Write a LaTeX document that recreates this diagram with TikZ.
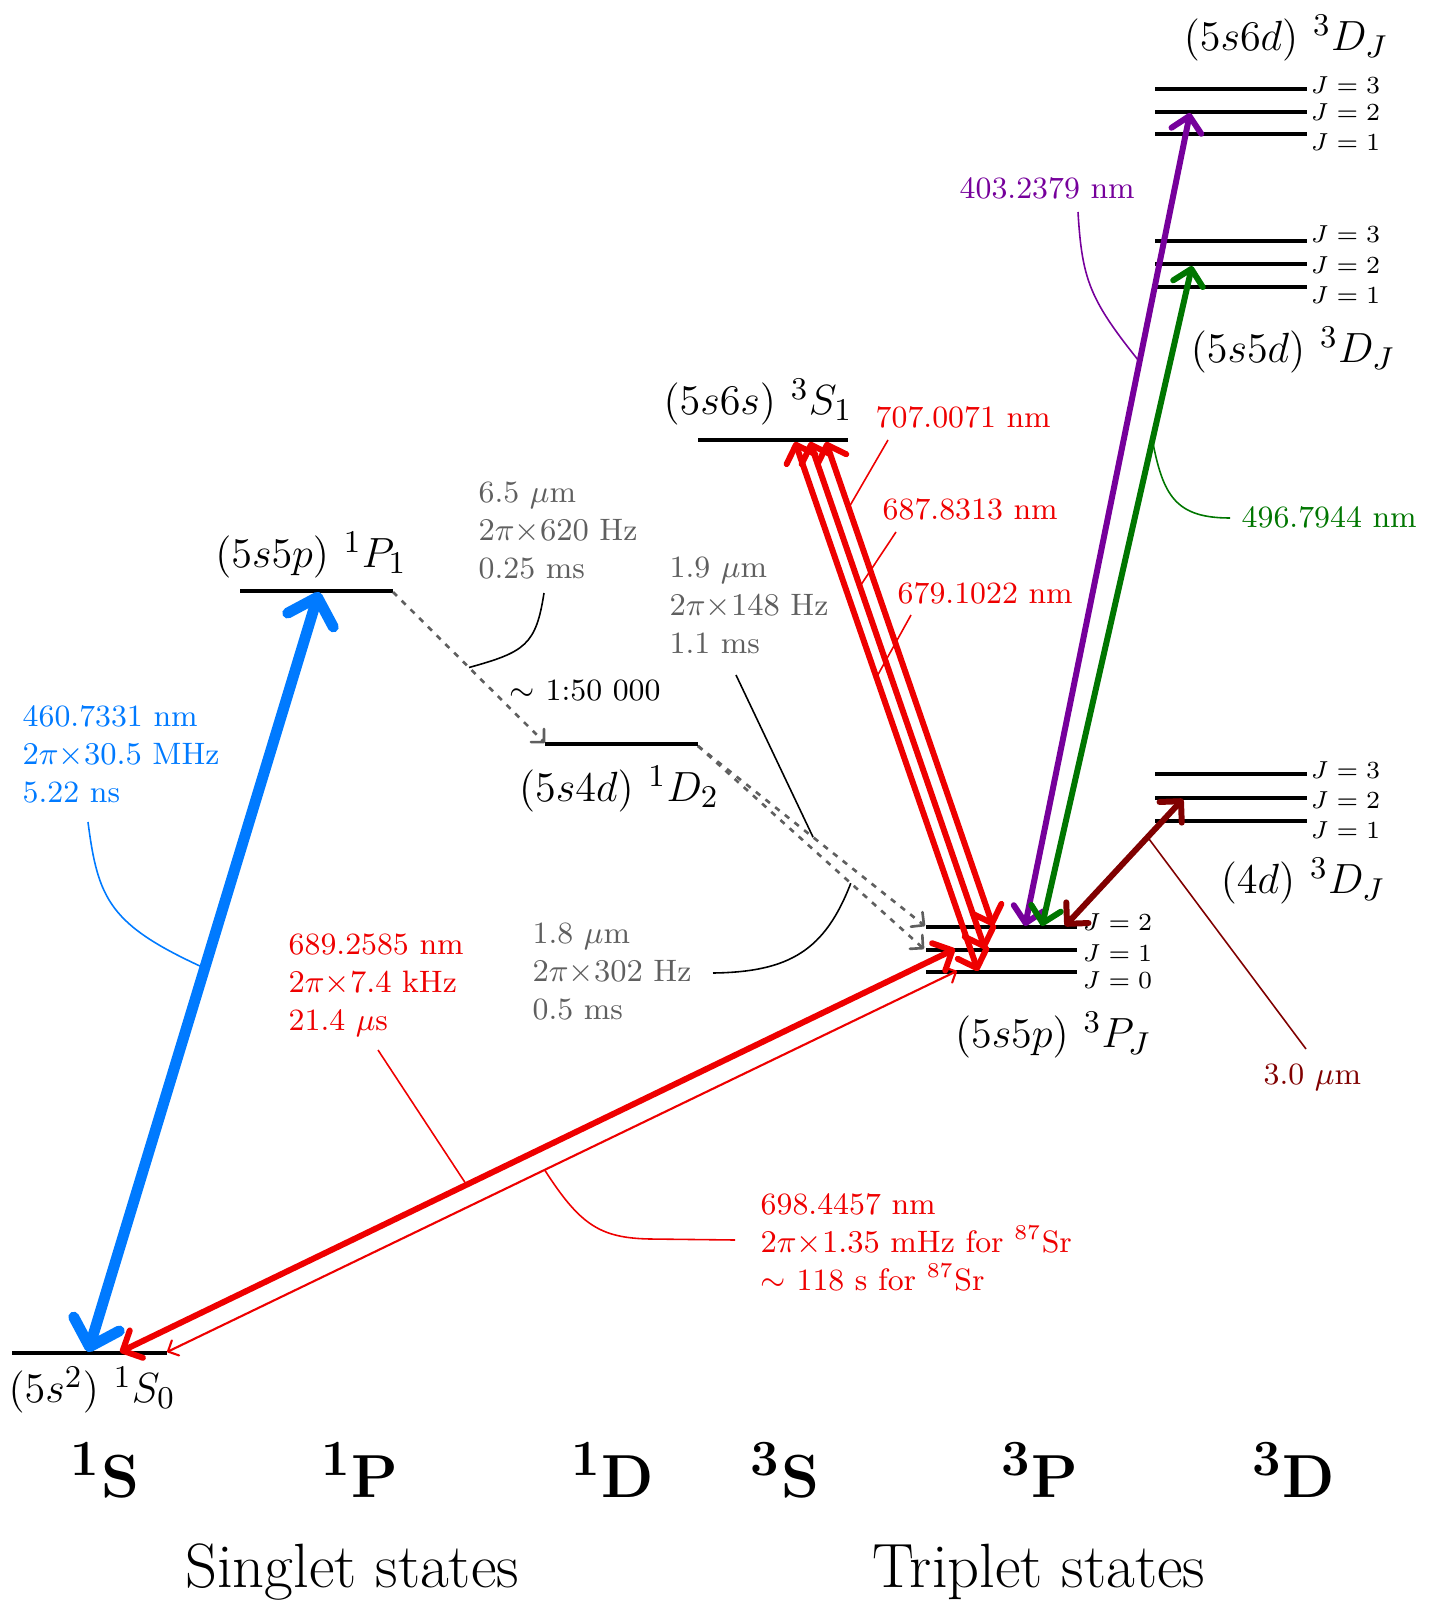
\documentclass[tikz,border=0pt]{standalone}
\usepackage{amsmath,amssymb}
\usepackage{tikz}
\usetikzlibrary{arrows.meta,calc}

\definecolor{bluearr}{RGB}{0,122,255}
\definecolor{redarr}{RGB}{238,0,0}
\definecolor{purparr}{RGB}{118,0,155}
\definecolor{greenarr}{RGB}{0,118,0}
\definecolor{darkredarr}{RGB}{128,0,0}
\definecolor{graytxt}{RGB}{95,95,95}

\tikzset{
  lvl/.style={line width=1.2pt},
  transarr/.style={<->, line width=1.7pt},
  leader/.style={line width=0.45pt},
  decayarr/.style={->, graytxt, line width=0.75pt, dash pattern=on 1.6pt off 1.9pt},
  statelab/.style={font=\fontsize{13}{15}\selectfont},
  jlab/.style={anchor=west, inner sep=0pt, font=\fontsize{7.5}{9}\selectfont},
  infotext/.style={anchor=north west, inner sep=0pt, align=left, font=\fontsize{8.8}{10.8}\selectfont},
  waveltext/.style={anchor=west, inner sep=0pt, font=\fontsize{8.8}{10.8}\selectfont},
  termlab/.style={font=\fontsize{19}{22}\selectfont},
  grouplab/.style={font=\fontsize{17.8}{21}\selectfont},
}

\begin{document}
\begin{tikzpicture}[x=0.01cm, y=-0.01cm, >={Straight Barb[round,scale=0.88]}]
\useasboundingbox (0,0) rectangle (1435,1603);

% energy levels
\draw[lvl] (12,1353) -- (167,1353);
\draw[lvl] (240,591) -- (393,591);
\draw[lvl] (545,744) -- (698,744);
\draw[lvl] (698,440) -- (848,440);
\foreach \yy in {927,950,972}
    \draw[lvl] (926,\yy) -- (1077,\yy);
\foreach \yy in {89,112,134, 241,264,287, 774,798,821}
    \draw[lvl] (1155,\yy) -- (1307,\yy);

% arrow ends
\coordinate (S0blue) at (88,1352);
\coordinate (S0red) at (120,1352);
\coordinate (S0thin) at (167,1352);
\coordinate (P1blue) at (319,592);
\coordinate (P1end) at (393,592);
\coordinate (D2start) at (545,743);
\coordinate (D2end) at (698,746);
\coordinate (S1a) at (795,442);
\coordinate (S1b) at (810,442);
\coordinate (S1c) at (826,442);
\coordinate (P2red) at (993,926);
\coordinate (P1red) at (985,949);
\coordinate (P0red) at (978,971);
\coordinate (P1thick) at (955,949);
\coordinate (P0thin) at (957,971);
\coordinate (P2purp) at (1025,926);
\coordinate (P2green) at (1042,926);
\coordinate (P2dark) at (1065,926);
\coordinate (P2dash) at (925,926);
\coordinate (P1dash) at (924,949);
\coordinate (D6d) at (1190,113);
\coordinate (D5d) at (1192,266);
\coordinate (D4d) at (1183,799);

% transitions
\draw[transarr, bluearr, line width=3.1pt] (S0blue) -- (P1blue);
\draw[transarr, redarr] (S0red) -- (P1thick);
\draw[transarr, redarr, line width=0.6pt] (S0thin) -- (P0thin);
\draw[transarr, redarr] (S1a) -- (P0red);
\draw[transarr, redarr] (S1b) -- (P1red);
\draw[transarr, redarr] (S1c) -- (P2red);
\draw[transarr, purparr] (P2purp) -- (D6d);
\draw[transarr, greenarr] (P2green) -- (D5d);
\draw[transarr, darkredarr] (P2dark) -- (D4d);

% decays
\draw[decayarr] (P1end) -- (D2start);
\draw[decayarr] (D2end) -- (P2dash);
\draw[decayarr] (D2end) -- (P1dash);

% state labels
\node[statelab] (l6d) at (1286,38) {$(5s6d)\ {}^3D_J$};
\node[statelab] (l5d) at (1293,350) {$(5s5d)\ {}^3D_J$};
\node[statelab] (l6s) at (758,402) {$(5s6s)\ {}^3S_1$};
\node[statelab] (l5p1) at (311,555) {$(5s5p)\ {}^1P_1$};
\node[statelab] (l4d1) at (619,789) {$(5s4d)\ {}^1D_2$};
\node[statelab] (l4d3) at (1303,881) {$(4d)\ {}^3D_J$};
\node[statelab] (l5p3) at (1053,1035) {$(5s5p)\ {}^3P_J$};
\node[statelab] (l5s) at (92,1390) {$(5s^2)\ {}^1S_0$};

% J labels
\foreach \jj/\yy in {3/85,2/112,1/142}
    \node[jlab] (ja\jj) at (1310,\yy) {$J=\jj$};
\foreach \jj/\yy in {3/234,2/265,1/295}
    \node[jlab] (jb\jj) at (1310,\yy) {$J=\jj$};
\foreach \jj/\yy in {3/770,2/800,1/830}
    \node[jlab] (jc\jj) at (1310,\yy) {$J=\jj$};
\foreach \jj/\yy in {2/922,1/953,0/980}
    \node[jlab] (jp\jj) at (1082,\yy) {$J=\jj$};

% transition data
\node[infotext, bluearr] (iblue) at (22,705)
    {460.7331 nm\\ $2\pi{\times}30.5$ MHz\\ 5.22 ns};
\node[infotext, graytxt] (iD2a) at (478,481)
    {6.5 $\mu$m\\ $2\pi{\times}620$ Hz\\ 0.25 ms};
\node[infotext, graytxt] (iD2b) at (669,556)
    {1.9 $\mu$m\\ $2\pi{\times}148$ Hz\\ 1.1 ms};
\node[infotext, graytxt] (iD2c) at (532,922)
    {1.8 $\mu$m\\ $2\pi{\times}302$ Hz\\ 0.5 ms};
\node[waveltext] (ratio) at (509,691) {$\sim$ 1:50 000};
\node[infotext, redarr] (ired) at (288,933)
    {689.2585 nm\\ $2\pi{\times}7.4$ kHz\\ 21.4 $\mu$s};
\node[infotext, redarr] (iclock) at (760,1193)
    {698.4457 nm\\ $2\pi{\times}1.35$ mHz for $^{87}$Sr\\ $\sim$ 118 s for $^{87}$Sr};
\node[waveltext, redarr] (w707) at (875,417) {707.0071 nm};
\node[waveltext, redarr] (w687) at (882,509) {687.8313 nm};
\node[waveltext, redarr] (w679) at (897,593) {679.1022 nm};
\node[waveltext, purparr] (w403) at (959,188) {403.2379 nm};
\node[waveltext, greenarr] (w496) at (1241,517) {496.7944 nm};
\node[waveltext, darkredarr] (w3um) at (1263,1077) {3.0 $\mu$m};

% leaders
\draw[leader, bluearr] (88,822) .. controls (98,900) and (110,925) .. ($(S0blue)!0.505!(P1blue)$);
\draw[leader] (544,593) .. controls (536,645) and (525,652) .. ($(P1end)!0.5!(D2start)$);
\draw[leader] (736,675) -- ($(D2end)!0.507!(P2dash)$);
\draw[leader] (713,973) .. controls (790,972) and (825,950) .. ($(D2end)!0.676!(P1dash)$);
\draw[leader, redarr] (378,1050) -- ($(S0red)!0.415!(P1thick)$);
\draw[leader, redarr] (735,1240) -- (650,1239) .. controls (600,1238) and (580,1225) .. ($(S0thin)!0.478!(P0thin)$);
\draw[leader, redarr] (888,440) -- ($(S1c)!0.136!(P2red)$);
\draw[leader, redarr] (896,532) -- ($(S1b)!0.285!(P1red)$);
\draw[leader, redarr] (911,615) -- ($(S1a)!0.445!(P0red)$);
\draw[leader, purparr] (1078,212) .. controls (1082,280) and (1090,300) .. ($(P2purp)!0.694!(D6d)$);
\draw[leader, greenarr] (1230,518) .. controls (1175,518) and (1163,495) .. ($(P2green)!0.736!(D5d)$);
\draw[leader, darkredarr] (1306,1049) -- ($(P2dark)!0.7!(D4d)$);

% term symbols
\node[termlab] (tS1) at (105,1470) {$\mathbf{{}^1S}$};
\node[termlab] (tP1) at (360,1470) {$\mathbf{{}^1P}$};
\node[termlab] (tD1) at (613,1470) {$\mathbf{{}^1D}$};
\node[termlab] (tS3) at (785,1470) {$\mathbf{{}^3S}$};
\node[termlab] (tP3) at (1040,1470) {$\mathbf{{}^3P}$};
\node[termlab] (tD3) at (1294,1470) {$\mathbf{{}^3D}$};
\node[grouplab] (singlet) at (352,1572) {Singlet states};
\node[grouplab] (triplet) at (1039,1572) {Triplet states};

\end{tikzpicture}
\end{document}
